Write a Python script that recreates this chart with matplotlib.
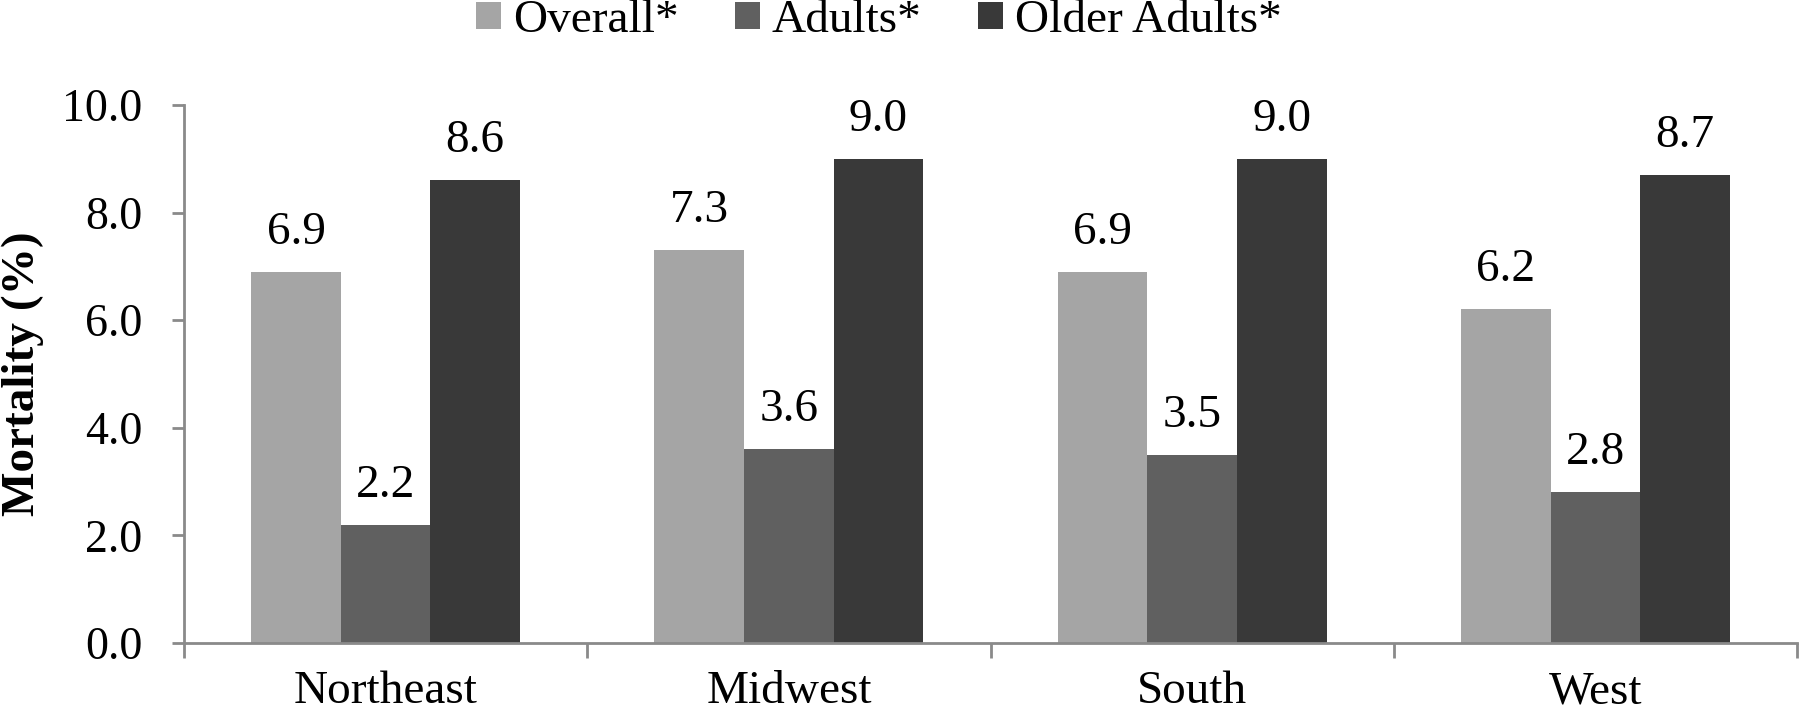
import matplotlib
matplotlib.use("Agg")
import matplotlib.pyplot as plt
import numpy as np

regions = ["Northeast", "Midwest", "South", "West"]
series_names = ["Overall*", "Adults*", "Older Adults*"]
overall = [6.9, 7.3, 6.9, 6.2]
adults = [2.2, 3.6, 3.5, 2.8]
older = [8.6, 9.0, 9.0, 8.7]
colors = ["#a5a5a5", "#606060", "#393939"]
yticks = [0.0, 2.0, 4.0, 6.0, 8.0, 10.0]

plt.rcParams['font.family'] = ['Liberation Serif', 'DejaVu Serif']

W, H = 1800, 716
fig = plt.figure(figsize=(W / 100, H / 100), dpi=100)
ax = fig.add_axes([184 / W, 1 - 643 / H, 1613 / W, (643 - 105) / H])

x = np.arange(len(regions))
w = 1 / 4.5
data = [overall, adults, older]
handles = []
for i, (vals, c, name) in enumerate(zip(data, colors, series_names)):
    pos = x + (i - 1) * w
    bars = ax.bar(pos, vals, width=w, color=c, label=name, zorder=2)
    handles.append(bars)
    for p, v in zip(pos, vals):
        ax.annotate(f"{v:.1f}", (p, v), xytext=(0, 13), textcoords="offset points",
                    ha="center", va="bottom", fontsize=34)

ax.set_xlim(-0.5, len(regions) - 0.5)
ax.set_ylim(0, 10)
ax.set_yticks(yticks)
ax.set_yticklabels([f"{t:.1f}" for t in yticks], fontsize=33)
ax.set_xticks(x)
ax.set_xticklabels(regions, fontsize=34)
ax.tick_params(axis='x', length=0, pad=20)
ax.set_xticks(np.arange(-0.5, len(regions) + 0.5, 1), minor=True)
ax.tick_params(axis='x', which='minor', length=11, color="#8a8a8a", width=2)
ax.tick_params(axis='y', length=9, color="#8a8a8a", width=2, pad=21)
for s in ["top", "right"]:
    ax.spines[s].set_visible(False)
for s in ["left", "bottom"]:
    ax.spines[s].set_color("#8a8a8a")
    ax.spines[s].set_linewidth(2)

fig.text(23 / W, 1 - 374 / H, "Mortality (%)", rotation=90, ha="center", va="center",
         fontsize=34, fontweight="bold")

fig.legend(handles=handles, labels=series_names, loc="center",
           bbox_to_anchor=(879 / W, 1 - 21 / H), ncol=3, frameon=False,
           fontsize=34, handlelength=0.53, handleheight=0.53, handletextpad=0.25,
           columnspacing=1.2, borderpad=0, borderaxespad=0)

fig.savefig("out.png", dpi=100)
